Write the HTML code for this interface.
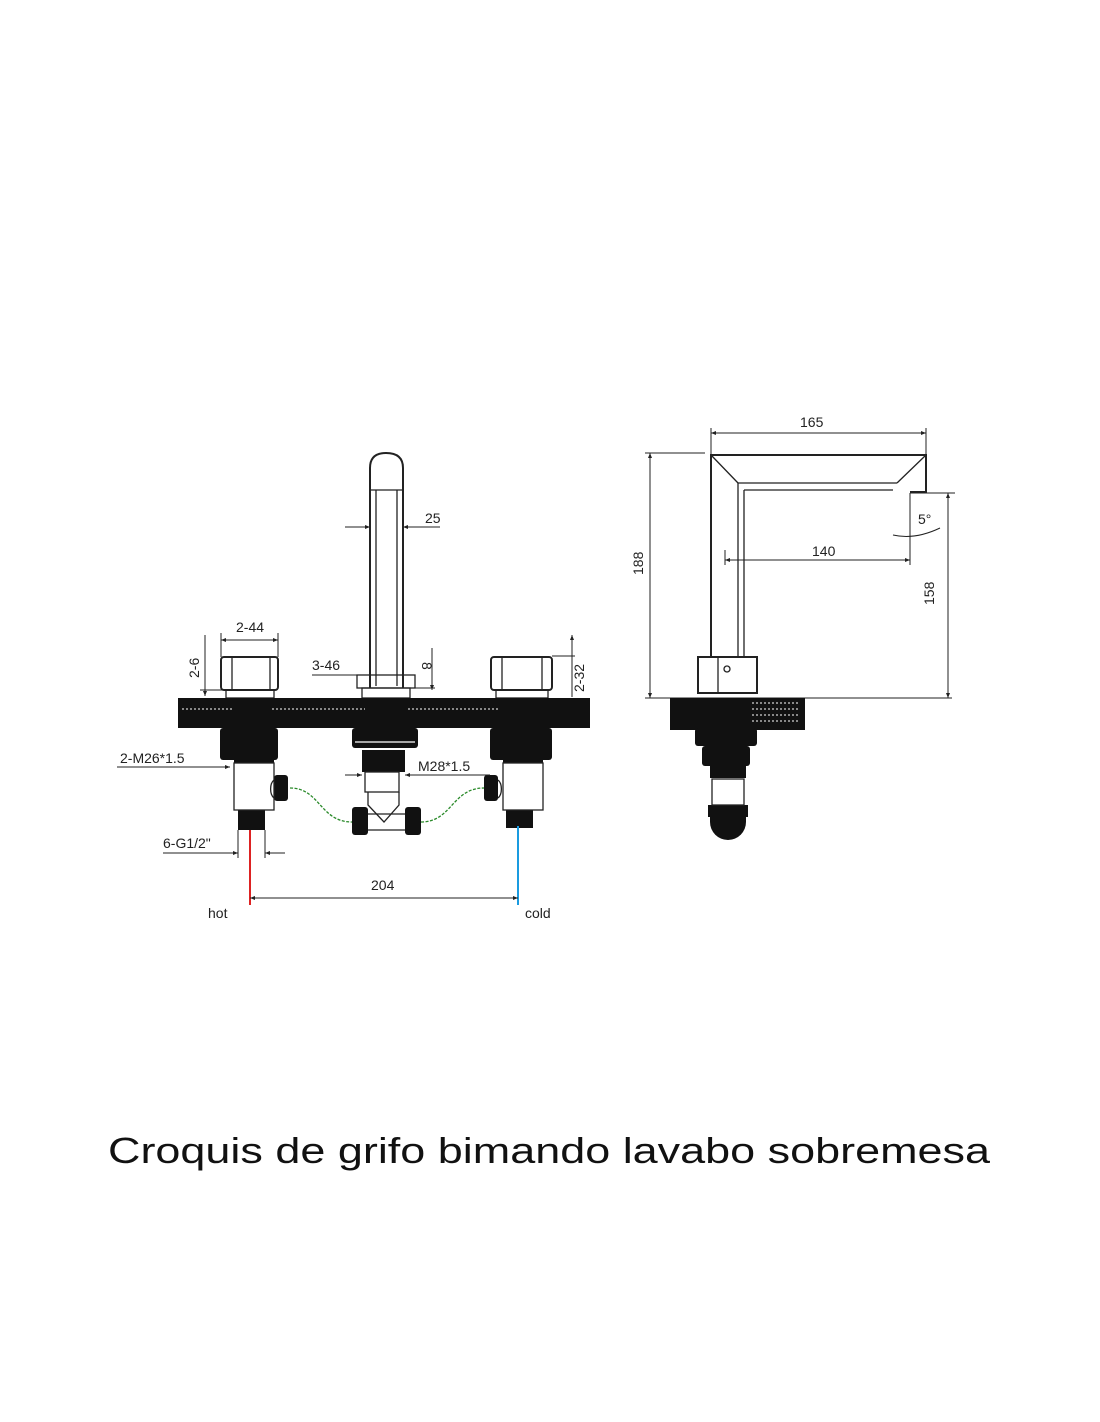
<!DOCTYPE html>
<html><head><meta charset="utf-8"><style>
html,body{margin:0;padding:0;background:#fff;}
svg{display:block;}
text{font-family:"Liberation Sans",sans-serif;fill:#222;}
</style></head><body>
<svg width="1100" height="1422" viewBox="0 0 1100 1422" xmlns="http://www.w3.org/2000/svg">
<defs>
<marker id="a" viewBox="0 0 10 10" refX="10" refY="5" markerWidth="5" markerHeight="5" orient="auto-start-reverse"><path d="M0,1 L10,5 L0,9z" fill="#222"/></marker>
</defs>
<rect width="1100" height="1422" fill="#fff"/>
<g stroke="#222" stroke-width="1.3" fill="none">
<!-- spout front -->
<path d="M370,688 V468 Q370,453 386,453 Q403,453 403,468 V688" stroke-width="2"/>
<line x1="376" y1="490" x2="376" y2="686"/><line x1="397" y1="490" x2="397" y2="686"/>
<line x1="370" y1="490" x2="403" y2="490"/>
<rect x="357" y="675" width="58" height="13"/>
<rect x="362" y="688" width="48" height="10"/>
<!-- handles -->
<rect x="221" y="657" width="57" height="33" rx="3" stroke-width="2"/>
<line x1="232" y1="657" x2="232" y2="690"/><line x1="270" y1="657" x2="270" y2="690"/>
<rect x="226" y="690" width="48" height="8"/>
<rect x="491" y="657" width="61" height="33" rx="3" stroke-width="2"/>
<line x1="502" y1="657" x2="502" y2="690"/><line x1="542" y1="657" x2="542" y2="690"/>
<rect x="496" y="690" width="52" height="8"/>
</g>
<!-- slab -->
<rect x="178" y="698" width="412" height="30" fill="#111"/>
<g stroke="#fff" stroke-width="1" stroke-dasharray="2 2"><line x1="182" y1="709" x2="232" y2="709"/><line x1="272" y1="709" x2="365" y2="709"/><line x1="408" y1="709" x2="500" y2="709"/></g>
<!-- below left -->
<g fill="#111">
<rect x="220" y="728" width="58" height="32" rx="3"/>
<rect x="234" y="745" width="40" height="18"/>
<rect x="238" y="810" width="27" height="20"/>
<rect x="274" y="775" width="14" height="26" rx="3"/>
<rect x="490" y="728" width="62" height="32" rx="3"/>
<rect x="503" y="745" width="40" height="18"/>
<rect x="506" y="810" width="27" height="18"/>
<rect x="484" y="775" width="14" height="26" rx="3"/>
<rect x="352" y="728" width="66" height="20" rx="3"/>
<rect x="362" y="750" width="43" height="22"/>
<rect x="352" y="807" width="16" height="28" rx="3"/>
<rect x="405" y="807" width="16" height="28" rx="3"/>
</g>
<g stroke="#222" stroke-width="1.3" fill="none">
<rect x="234" y="763" width="40" height="47"/>
<path d="M274,780 a6,10 0 0 0 0,18"/>
<rect x="503" y="763" width="40" height="47"/>
<path d="M498,780 a6,10 0 0 1 0,18"/>
<rect x="365" y="772" width="34" height="20"/>
<path d="M368,792 L368,805 L384,822 L399,805 V792"/>
<line x1="368" y1="814" x2="405" y2="814"/><line x1="368" y1="830" x2="405" y2="830"/>
<line x1="355" y1="742" x2="415" y2="742" stroke="#fff"/>
</g>
<g stroke="#2a8a2a" stroke-width="1.3" stroke-dasharray="3 1.5" fill="none">
<path d="M290,788 C320,788 320,822 352,822"/>
<path d="M421,822 C452,822 452,788 484,788"/>
</g>
<line x1="250" y1="830" x2="250" y2="905" stroke="#d22" stroke-width="2"/>
<line x1="518" y1="826" x2="518" y2="905" stroke="#1a9be0" stroke-width="2"/>
<!-- dims front -->
<g stroke="#222" stroke-width="1" fill="none">
<line x1="250" y1="898" x2="518" y2="898" marker-start="url(#a)" marker-end="url(#a)"/>
<line x1="221" y1="640" x2="278" y2="640" marker-start="url(#a)" marker-end="url(#a)"/>
<line x1="221" y1="633" x2="221" y2="657"/><line x1="278" y1="633" x2="278" y2="657"/>
<line x1="205" y1="635" x2="205" y2="696" marker-end="url(#a)"/>
<line x1="200" y1="690" x2="225" y2="690"/>
<line x1="312" y1="675" x2="415" y2="675"/>
<line x1="432" y1="648" x2="432" y2="690" marker-end="url(#a)"/>
<line x1="410" y1="688" x2="435" y2="688"/>
<line x1="572" y1="635" x2="572" y2="697" marker-start="url(#a)"/>
<line x1="552" y1="656" x2="575" y2="656"/>
<line x1="345" y1="527" x2="370" y2="527" marker-end="url(#a)"/>
<line x1="440" y1="527" x2="403" y2="527" marker-end="url(#a)"/>
<line x1="117" y1="767" x2="230" y2="767" marker-end="url(#a)"/>
<line x1="345" y1="775" x2="362" y2="775" marker-end="url(#a)"/>
<line x1="490" y1="775" x2="405" y2="775" marker-end="url(#a)"/>
<line x1="163" y1="853" x2="238" y2="853" marker-end="url(#a)"/>
<line x1="285" y1="853" x2="265" y2="853" marker-end="url(#a)"/>
<line x1="238" y1="830" x2="238" y2="858"/><line x1="265" y1="830" x2="265" y2="858"/>
</g>
<g font-size="14">
<text x="371" y="890">204</text>
<text x="208" y="918">hot</text>
<text x="525" y="918">cold</text>
<text x="236" y="632">2-44</text>
<text x="312" y="670">3-46</text>
<text x="425" y="523">25</text>
<text x="120" y="763">2-M26*1.5</text>
<text x="418" y="771">M28*1.5</text>
<text x="163" y="848">6-G1/2"</text>
<text transform="translate(199,678) rotate(-90)">2-6</text>
<text transform="translate(422,662) rotate(90)">8</text>
<text transform="translate(584,692) rotate(-90)">2-32</text>
</g>
<!-- side view -->
<g stroke="#222" stroke-width="1.3" fill="none">
<path d="M711,657 V455 H926 V492 H910" stroke-width="2"/>
<path d="M738,657 V483 H897"/>
<line x1="744" y1="657" x2="744" y2="490"/><line x1="744" y1="490" x2="893" y2="490"/>
<line x1="711" y1="455" x2="738" y2="483"/><line x1="926" y1="455" x2="897" y2="483"/>
<rect x="698" y="657" width="59" height="36" stroke-width="2"/>
<line x1="718" y1="657" x2="718" y2="693"/>
<circle cx="727" cy="669" r="3"/>
<!-- dims -->
<line x1="711" y1="433" x2="926" y2="433" marker-start="url(#a)" marker-end="url(#a)" stroke-width="1"/>
<line x1="711" y1="428" x2="711" y2="455" stroke-width="1"/><line x1="926" y1="428" x2="926" y2="455" stroke-width="1"/>
<line x1="650" y1="453" x2="650" y2="698" marker-start="url(#a)" marker-end="url(#a)" stroke-width="1"/>
<line x1="645" y1="453" x2="705" y2="453" stroke-width="1"/>
<line x1="645" y1="698" x2="952" y2="698" stroke-width="1"/>
<line x1="948" y1="493" x2="948" y2="698" marker-start="url(#a)" marker-end="url(#a)" stroke-width="1"/>
<line x1="910" y1="493" x2="955" y2="493" stroke-width="1"/>
<line x1="725" y1="560" x2="910" y2="560" marker-start="url(#a)" marker-end="url(#a)" stroke-width="1"/>
<line x1="725" y1="550" x2="725" y2="565" stroke-width="1"/>
<line x1="910" y1="493" x2="910" y2="565" stroke-width="1"/>
<path d="M893,535 Q915,540 940,528" stroke-width="1"/>
</g>
<g fill="#111">
<rect x="670" y="698" width="135" height="32"/>
<rect x="695" y="728" width="62" height="18" rx="3"/>
<rect x="702" y="746" width="48" height="20" rx="3"/>
<rect x="710" y="766" width="36" height="12"/>
<rect x="708" y="805" width="40" height="12"/>
<path d="M710,817 H746 V822 A18,18 0 0 1 710,822z"/>
</g>
<rect x="712" y="779" width="32" height="26" fill="#fff" stroke="#222" stroke-width="1.3"/>
<g stroke="#fff" stroke-width="1" stroke-dasharray="2 2"><line x1="752" y1="703" x2="800" y2="703"/><line x1="752" y1="709" x2="800" y2="709"/><line x1="752" y1="715" x2="800" y2="715"/><line x1="752" y1="721" x2="800" y2="721"/></g>
<g font-size="14">
<text x="800" y="427">165</text>
<text x="812" y="556">140</text>
<text x="918" y="524">5°</text>
<text transform="translate(643,575) rotate(-90)">188</text>
<text transform="translate(934,605) rotate(-90)">158</text>
</g>
<text x="108" y="1163" font-size="36" textLength="882" lengthAdjust="spacingAndGlyphs" style="fill:#111">Croquis de grifo bimando lavabo sobremesa</text>
</svg>
</body></html>
